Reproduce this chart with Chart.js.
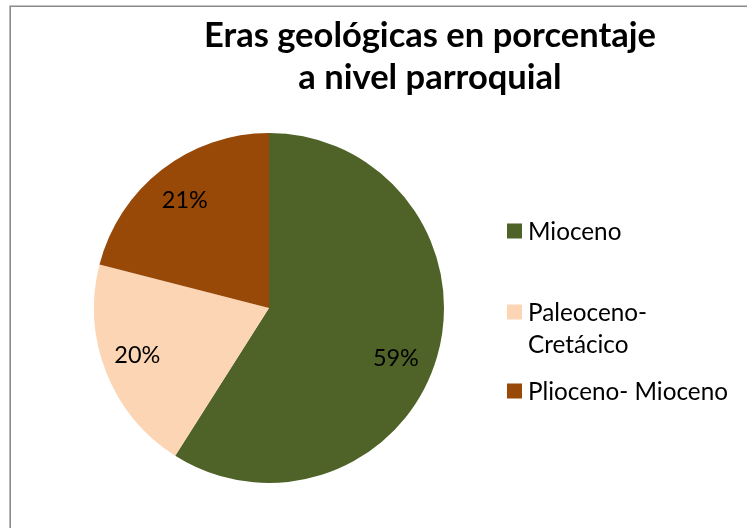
<!DOCTYPE html>
<html>
<head>
<meta charset="utf-8">
<script src="https://cdn.jsdelivr.net/npm/chart.js@4.4.0/dist/chart.umd.min.js"></script>
<style>
html,body{margin:0;padding:0;background:#fff;}
#wrap{width:747px;height:528px;position:relative;}
</style>
</head>
<body>
<div id="wrap"><canvas id="c" width="747" height="528"></canvas></div>
<script>
// ---- data ----
const titleLines = ['Eras geológicas en porcentaje', 'a nivel parroquial'];
const categories = ['Mioceno', 'Paleoceno-Cretácico', 'Plioceno- Mioceno'];
const values = [59, 20, 21];
const colors = ['#4F6228', '#FCD5B5', '#984807'];

// ---- style / layout constants ----
const FONT = 'Lato, "Open Sans", "DejaVu Sans", sans-serif';
const TITLE_CX = 430, TITLE_BASE = [47, 89], TITLE_W = 452;
const LEG_BOX_X = 507, LEG_TEXT_X = 528, LEG_LINE_H = 32, LEG_BOX = 15;
const LEG_Y = [231, 312, 391];   // centre of first line of each entry
const LEG_MAXW = 205, LEG_REF_W = 200; // wrap width, width of "Plioceno- Mioceno"
const LABEL_REF_W = 46;          // width of "59%"
const LABEL_K = 0.785;
const LABEL_NUDGE = [[-5, 11], [-4, -4], [0, 0]]; // label placement tweaks (px)

function fitSize(ctx, text, target, weight) {
  ctx.font = weight + ' 100px ' + FONT;
  return 100 * target / ctx.measureText(text).width;
}
function wrap(ctx, text, maxW) {
  if (ctx.measureText(text).width <= maxW) return [text];
  const i = text.indexOf('-');
  if (i > 0) return [text.slice(0, i + 1), text.slice(i + 1).trim()];
  return [text];
}

const decor = {
  id: 'decor',
  beforeDraw(chart) {
    const ctx = chart.ctx;
    ctx.save();
    ctx.fillStyle = '#fff';
    ctx.fillRect(0, 0, chart.width, chart.height);
    ctx.strokeStyle = '#8a8a8a';
    ctx.lineWidth = 1.6;
    ctx.beginPath();
    ctx.moveTo(10.2, chart.height + 2);
    ctx.lineTo(10.2, 6.2);
    ctx.lineTo(chart.width + 2, 6.2);
    ctx.stroke();
    ctx.restore();
  },
  afterDraw(chart) {
    const ctx = chart.ctx;
    ctx.save();
    // title
    const ts = fitSize(ctx, titleLines[0], TITLE_W, 'bold');
    ctx.font = 'bold ' + ts.toFixed(2) + 'px ' + FONT;
    ctx.fillStyle = '#000';
    ctx.textAlign = 'center';
    ctx.textBaseline = 'alphabetic';
    titleLines.forEach((t, i) => ctx.fillText(t, TITLE_CX, TITLE_BASE[i]));

    // data labels
    const ls = fitSize(ctx, values[0] + '%', LABEL_REF_W, 'normal');
    ctx.font = ls.toFixed(2) + 'px ' + FONT;
    ctx.textBaseline = 'middle';
    const meta = chart.getDatasetMeta(0);
    const total = values.reduce((a, b) => a + b, 0);
    meta.data.forEach((arc, i) => {
      const p = arc.getProps(['x', 'y', 'startAngle', 'endAngle', 'outerRadius'], true);
      const mid = (p.startAngle + p.endAngle) / 2;
      const r = p.outerRadius * LABEL_K;
      const pct = Math.round(values[i] / total * 100) + '%';
      const n = LABEL_NUDGE[i];
      ctx.fillText(pct, p.x + Math.cos(mid) * r + n[0], p.y + Math.sin(mid) * r + 1 + n[1]);
    });

    // legend
    const gs = fitSize(ctx, categories[2], LEG_REF_W, 'normal');
    ctx.font = gs.toFixed(2) + 'px ' + FONT;
    ctx.textAlign = 'left';
    categories.forEach((c, i) => {
      const lines = wrap(ctx, c, LEG_MAXW);
      const y0 = LEG_Y[i];
      ctx.fillStyle = colors[i];
      ctx.fillRect(LEG_BOX_X, y0 - LEG_BOX / 2, LEG_BOX, LEG_BOX);
      ctx.fillStyle = '#000';
      lines.forEach((l, j) => ctx.fillText(l, LEG_TEXT_X, y0 + j * LEG_LINE_H + 1));
    });
    ctx.restore();
  }
};

new Chart(document.getElementById('c'), {
  type: 'pie',
  data: {
    labels: categories,
    datasets: [{ data: values, backgroundColor: colors, borderWidth: 0, hoverOffset: 0 }]
  },
  options: {
    responsive: false,
    animation: false,
    events: [],
    layout: { padding: { left: 94, top: 133, right: 303, bottom: 45 } },
    plugins: { legend: { display: false }, title: { display: false }, tooltip: { enabled: false } }
  },
  plugins: [decor]
});
</script>
</body>
</html>
